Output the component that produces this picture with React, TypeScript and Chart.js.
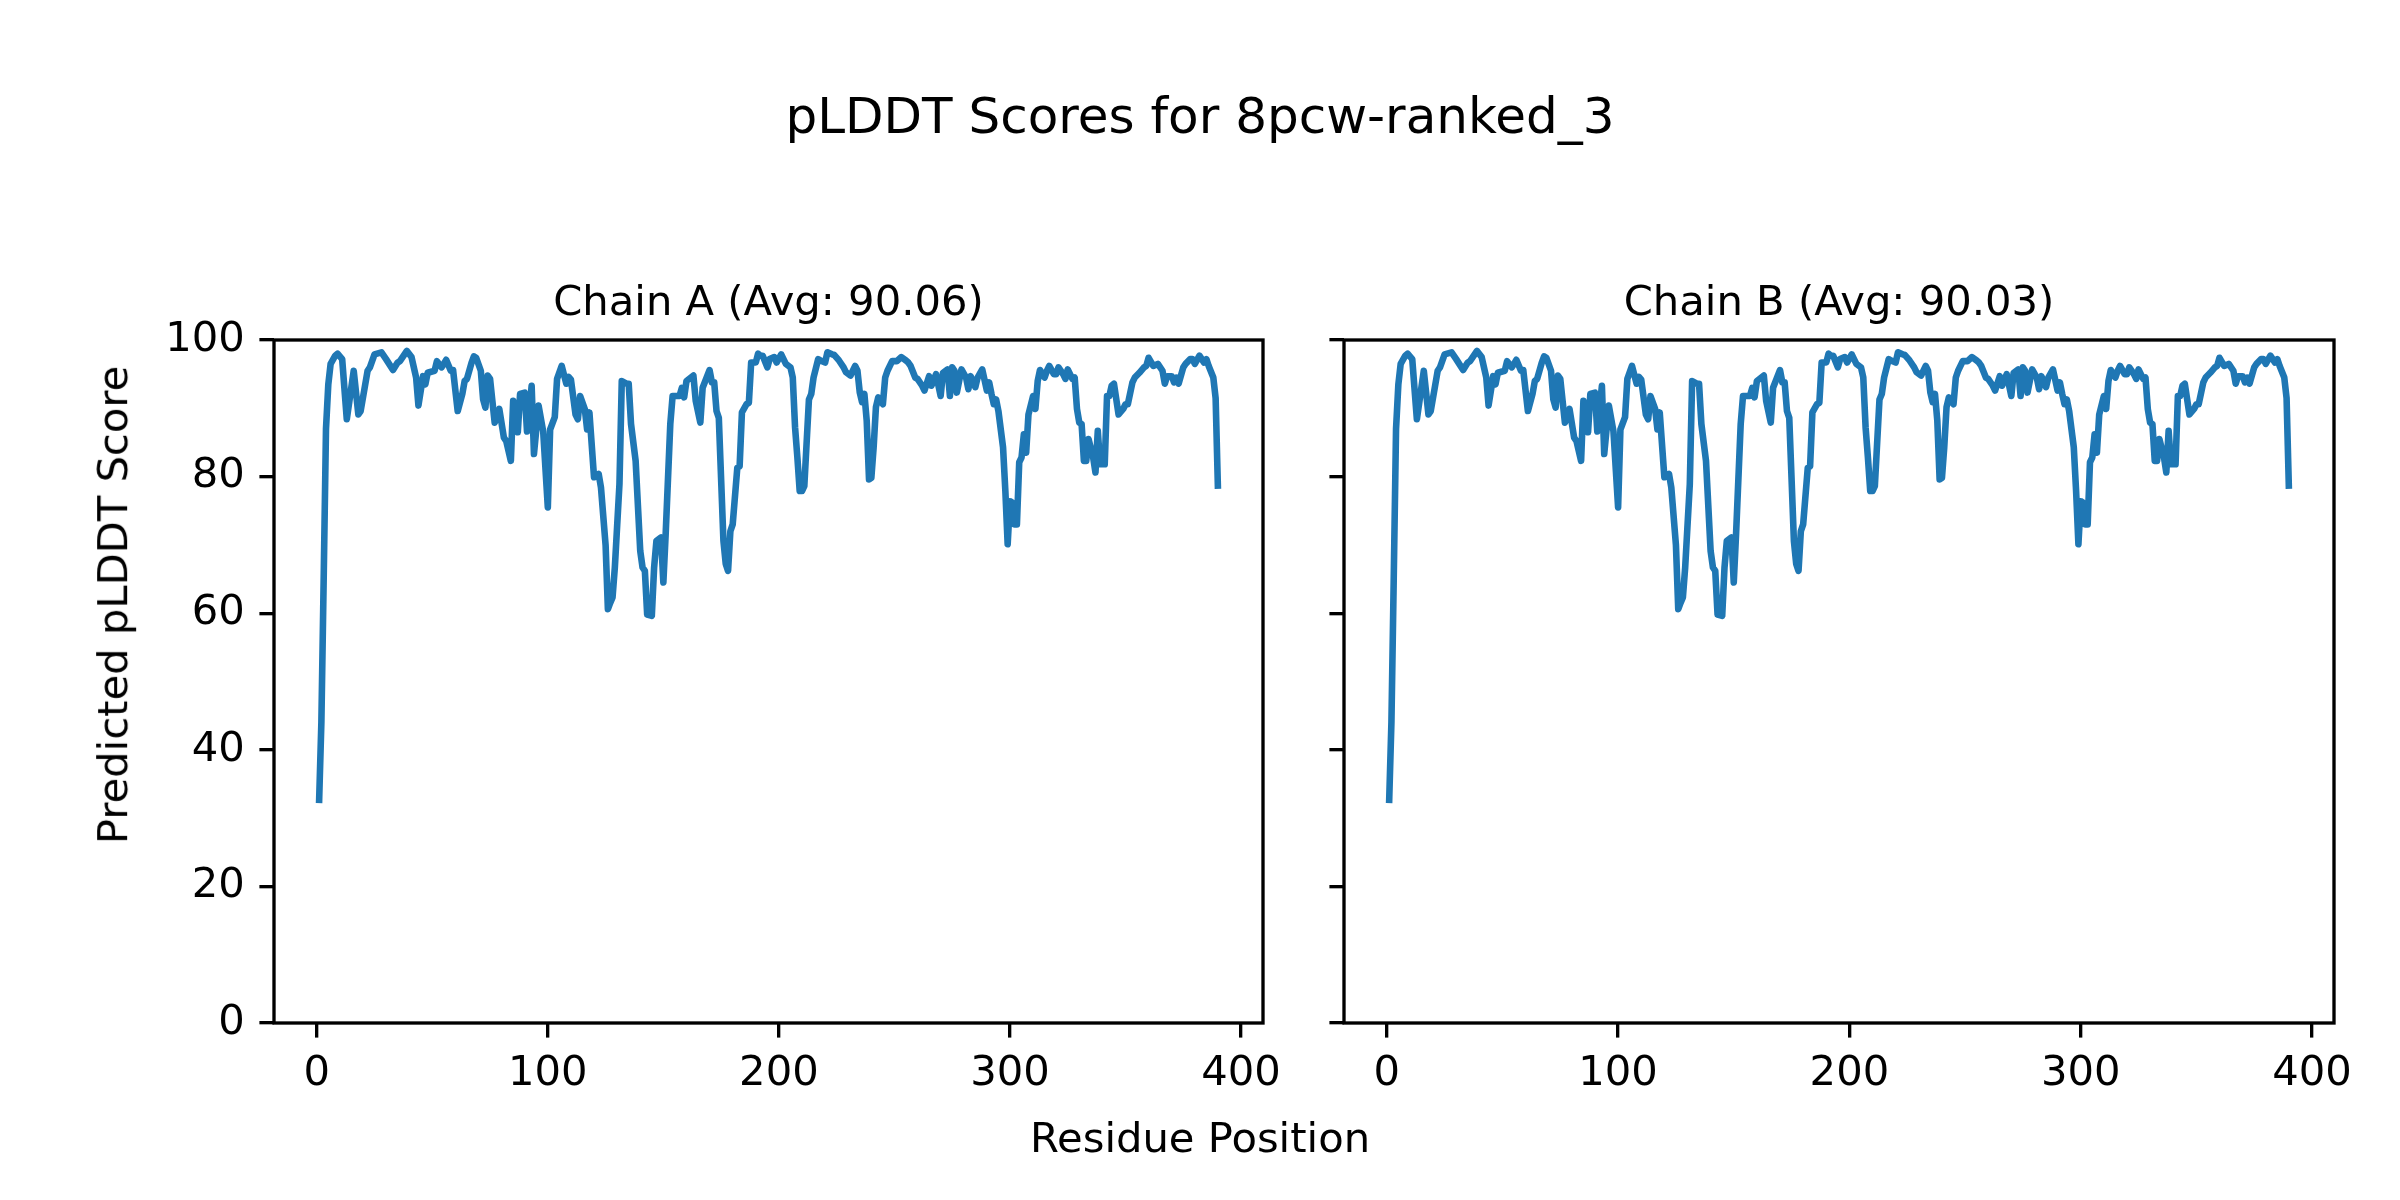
import React, { useEffect, useRef } from "react";
import { Chart, registerables } from "chart.js";

Chart.register(...registerables);

// ---------- data ----------
const residues: number[] = [
  1, 2, 3, 4, 5, 6, 8, 9, 11, 13, 16, 18, 19, 22, 23, 25, 28, 30, 33, 35, 36, 39, 41, 43, 44, 46, 47, 48,
  51, 52, 54, 55, 56, 58, 59, 61, 63, 64, 65, 67, 68, 69, 71, 72, 73, 74, 75, 76, 77, 79, 81, 82, 84, 85,
  87, 88, 90, 91, 93, 94, 96, 98, 100, 101, 103, 104, 106, 108, 109, 110, 112, 113, 114, 116, 117, 118,
  120, 122, 123, 125, 126, 127, 128, 129, 131, 132, 134, 135, 136, 138, 140, 141, 142, 143, 145, 146,
  147, 149, 150, 151, 153, 154, 156, 157, 158, 159, 160, 163, 164, 166, 167, 170, 171, 172, 173, 174,
  176, 177, 178, 179, 180, 182, 183, 184, 186, 187, 188, 190, 191, 192, 193, 195, 196, 198, 199, 201,
  203, 205, 206, 207, 208, 209, 210, 211, 213, 214, 215, 217, 218, 220, 221, 223, 224, 226, 228, 229,
  231, 233, 234, 235, 236, 237, 238, 239, 240, 241, 242, 243, 245, 246, 247, 249, 251, 253, 255, 256,
  257, 259, 260, 262, 263, 265, 266, 268, 270, 271, 273, 274, 275, 276, 277, 279, 281, 282, 283, 285,
  286, 288, 290, 291, 292, 293, 294, 295, 297, 298, 299, 300, 301, 302, 303, 304, 305, 306, 307, 308,
  310, 311, 312, 313, 315, 316, 317, 319, 320, 321, 323, 324, 325, 327, 328, 329, 330, 331, 332, 333,
  334, 336, 337, 338, 339, 341, 342, 343, 344, 345, 347, 349, 350, 351, 353, 354, 356, 358, 359, 360,
  362, 364, 366, 367, 368, 370, 371, 372, 373, 375, 376, 378, 379, 380, 382, 384, 385, 386, 388, 389, 390,
];

const chainAScores: number[] = [
  32.2, 44, 65, 87, 93.5, 96.5, 97.7, 98.0, 97.2, 88.4, 95.5, 89.1, 89.6, 95.5, 96.0, 97.9, 98.2, 97.2, 95.6, 96.7, 96.9, 98.4, 97.5, 94.5, 90.4, 94.7, 93.5, 95.2,
  95.5, 96.9, 96.0, 96.5, 97.1, 95.5, 95.6, 89.6, 92.1, 94.0, 94.3, 96.7, 97.6, 97.4, 95.5, 91.3, 90.1, 94.8, 94.3, 91.1, 87.9, 89.9, 85.7, 85.2, 82.3, 91.1,
  86.5, 92.1, 92.3, 86.6, 93.3, 83.3, 90.4, 86.6, 75.5, 86.9, 88.7, 94.3, 96.2, 93.6, 94.6, 94.2, 89.1, 88.4, 91.8, 89.9, 86.9, 89.4,
  79.9, 80.4, 78.4, 70.0, 60.6, 61.5, 62.3, 66.7, 78.9, 94.0, 93.6, 93.6, 87.7, 82.3, 69.1, 66.7, 66.2, 59.8, 59.6, 66.7,
  70.6, 71.1, 64.5, 71.6, 87.7, 91.8, 91.8, 91.8, 93.0, 91.6, 94.0, 94.8, 91.1, 87.9, 93.0, 95.6, 93.8, 93.8, 89.6, 88.6,
  70.6, 67.2, 66.2, 72.0, 73.0, 81.3, 81.5, 89.4, 90.6, 90.8, 96.7, 96.7, 98.0, 97.7, 97.7, 96.0, 97.2, 97.5, 96.7, 97.9,
  96.5, 96.0, 94.5, 87.2, 82.8, 77.9, 77.9, 78.6, 91.3, 92.1, 94.5, 97.2, 97.0, 96.7, 98.2, 97.9, 97.8, 97.0, 96.0, 95.3,
  94.8, 96.2, 95.5, 92.3, 90.9, 92.1, 88.2, 79.6, 79.8, 84.3, 90.2, 91.6, 90.6, 94.5, 95.5, 96.9, 96.9, 97.5, 97.0, 96.7,
  96.2, 94.5, 94.3, 93.3, 92.6, 94.7, 93.3, 95.0, 91.8, 95.2, 95.7, 91.8, 96.0, 95.5, 92.3, 95.7, 94.5, 92.8, 94.7, 93.1,
  94.5, 95.7, 92.6, 93.8, 92.1, 90.6, 91.3, 89.6, 84.3, 77.9, 70.1, 76.4, 76.2, 73.0, 73.0, 82.1, 82.8, 86.2, 83.5, 89.1,
  91.8, 89.9, 94.0, 95.6, 94.5, 95.5, 96.2, 95.0, 95.0, 96.0, 95.0, 94.3, 95.7, 94.3, 94.5, 89.9, 87.9, 87.7, 82.3, 82.3,
  85.5, 82.8, 80.6, 86.7, 81.8, 81.8, 91.8, 91.8, 93.3, 93.6, 89.1, 89.9, 90.6, 90.6, 93.8, 94.5, 95.2, 96.0, 96.2, 97.4,
  96.2, 96.5, 95.5, 93.6, 94.7, 94.7, 93.8, 94.5, 93.6, 96.0, 96.5, 97.2, 97.2, 96.5, 97.7, 96.7, 97.2, 96.2, 94.5, 91.5, 78.2,
];

const chainBScores: number[] = [
  32.2, 44, 65, 87, 93.5, 96.5, 97.7, 98.0, 97.2, 88.4, 95.5, 89.1, 89.6, 95.5, 96.0, 97.9, 98.2, 97.2, 95.6, 96.7, 96.9, 98.4, 97.5, 94.5, 90.4, 94.7, 93.5, 95.2,
  95.5, 96.9, 96.0, 96.5, 97.1, 95.5, 95.6, 89.6, 92.1, 94.0, 94.3, 96.7, 97.6, 97.4, 95.5, 91.3, 90.1, 94.8, 94.3, 91.1, 87.9, 89.9, 85.7, 85.2, 82.3, 91.1,
  86.5, 92.1, 92.3, 86.6, 93.3, 83.3, 90.4, 86.6, 75.5, 86.9, 88.7, 94.3, 96.2, 93.6, 94.6, 94.2, 89.1, 88.4, 91.8, 89.9, 86.9, 89.4,
  79.9, 80.4, 78.4, 70.0, 60.6, 61.5, 62.3, 66.7, 78.9, 94.0, 93.6, 93.6, 87.7, 82.3, 69.1, 66.7, 66.2, 59.8, 59.6, 66.7,
  70.6, 71.1, 64.5, 71.6, 87.7, 91.8, 91.8, 91.8, 93.0, 91.6, 94.0, 94.8, 91.1, 87.9, 93.0, 95.6, 93.8, 93.8, 89.6, 88.6,
  70.6, 67.2, 66.2, 72.0, 73.0, 81.3, 81.5, 89.4, 90.6, 90.8, 96.7, 96.7, 98.0, 97.7, 97.7, 96.0, 97.2, 97.5, 96.7, 97.9,
  96.5, 96.0, 94.5, 87.2, 82.8, 77.9, 77.9, 78.6, 91.3, 92.1, 94.5, 97.2, 97.0, 96.7, 98.2, 97.9, 97.8, 97.0, 96.0, 95.3,
  94.8, 96.2, 95.5, 92.3, 90.9, 92.1, 88.2, 79.6, 79.8, 84.3, 90.2, 91.6, 90.6, 94.5, 95.5, 96.9, 96.9, 97.5, 97.0, 96.7,
  96.2, 94.5, 94.3, 93.3, 92.6, 94.7, 93.3, 95.0, 91.8, 95.2, 95.7, 91.8, 96.0, 95.5, 92.3, 95.7, 94.5, 92.8, 94.7, 93.1,
  94.5, 95.7, 92.6, 93.8, 92.1, 90.6, 91.3, 89.6, 84.3, 77.9, 70.1, 76.4, 76.2, 73.0, 73.0, 82.1, 82.8, 86.2, 83.5, 89.1,
  91.8, 89.9, 94.0, 95.6, 94.5, 95.5, 96.2, 95.0, 95.0, 96.0, 95.0, 94.3, 95.7, 94.3, 94.5, 89.9, 87.9, 87.7, 82.3, 82.3,
  85.5, 82.8, 80.6, 86.7, 81.8, 81.8, 91.8, 91.8, 93.3, 93.6, 89.1, 89.9, 90.6, 90.6, 93.8, 94.5, 95.2, 96.0, 96.2, 97.4,
  96.2, 96.5, 95.5, 93.6, 94.7, 94.7, 93.8, 94.5, 93.6, 96.0, 96.5, 97.2, 97.2, 96.5, 97.7, 96.7, 97.2, 96.2, 94.5, 91.5, 78.2,
];

const xTicks: number[] = [0, 100, 200, 300, 400];
const yTicks: number[] = [0, 20, 40, 60, 80, 100];

const suptitle = "pLDDT Scores for 8pcw-ranked_3";
const chainTitles: string[] = ["Chain A (Avg: 90.06)", "Chain B (Avg: 90.03)"];
const xLabel = "Residue Position";
const yLabel = "Predicted pLDDT Score";

// ---------- layout (pixels) ----------
const W = 2400;
const H = 1200;
const AX_TOP = 340;
const AX_BOTTOM = 1023;
const AX_LEFTS = [274, 1344];
const AX_RIGHTS = [1263, 2334];
const Y_AXIS_W = 140;
const X_AXIS_H = 110;
const FONT = "'DejaVu Sans', 'Noto Sans', sans-serif";
const TICK_FONT = 41.7;
const LINE_COLOR = "#1f77b4";
const SPINE_W = 3.33;
const TICK_LEN = 14.6;

const framePlugin = {
  id: "frame",
  afterDatasetsDraw(chart: any) {
    const { ctx, chartArea } = chart;
    ctx.save();
    ctx.strokeStyle = "#000";
    ctx.lineWidth = SPINE_W;
    ctx.lineJoin = "miter";
    ctx.strokeRect(chartArea.left, chartArea.top, chartArea.right - chartArea.left, chartArea.bottom - chartArea.top);
    ctx.restore();
  },
};

function makeConfig(idx: number, scores: number[]): any {
  const showY = idx === 0;
  return {
    type: "line",
    data: {
      datasets: [
        {
          data: residues.map((x, i) => ({ x, y: scores[i] })),
          borderColor: LINE_COLOR,
          borderWidth: 6.6,
          pointRadius: 0,
          tension: 0,
          fill: false,
          borderJoinStyle: "round",
          borderCapStyle: "butt",
        },
      ],
    },
    options: {
      animation: false,
      responsive: false,
      devicePixelRatio: 1,
      layout: {
        padding: {
          left: AX_LEFTS[idx] - Y_AXIS_W,
          right: W - AX_RIGHTS[idx],
          top: AX_TOP,
          bottom: H - AX_BOTTOM - X_AXIS_H,
        },
      },
      plugins: {
        legend: { display: false },
        tooltip: { enabled: false },
        title: { display: false },
      },
      scales: {
        x: {
          type: "linear",
          min: -18.5,
          max: 409.5,
          afterBuildTicks: (s: any) => {
            s.ticks = xTicks.map((v) => ({ value: v }));
          },
          afterFit: (s: any) => {
            s.height = X_AXIS_H;
          },
          grid: {
            drawOnChartArea: false,
            drawTicks: true,
            tickLength: TICK_LEN,
            color: "#000",
            lineWidth: SPINE_W,
          },
          border: { display: false },
          ticks: {
            color: "#000",
            font: { family: FONT, size: TICK_FONT },
            padding: 12,
            maxRotation: 0,
            autoSkip: false,
            callback: (v: any) => String(v),
          },
        },
        y: {
          type: "linear",
          min: 0,
          max: 100,
          afterBuildTicks: (s: any) => {
            s.ticks = yTicks.map((v) => ({ value: v }));
          },
          afterFit: (s: any) => {
            s.width = Y_AXIS_W;
          },
          grid: {
            drawOnChartArea: false,
            drawTicks: true,
            tickLength: TICK_LEN,
            color: "#000",
            lineWidth: SPINE_W,
          },
          border: { display: false },
          ticks: {
            color: "#000",
            font: { family: FONT, size: TICK_FONT },
            padding: 14.6,
            autoSkip: false,
            callback: (v: any) => (showY ? String(v) : ""),
          },
        },
      },
    },
    plugins: [framePlugin],
  };
}

function PanelCanvas({ idx, scores }: { idx: number; scores: number[] }) {
  const ref = useRef<HTMLCanvasElement | null>(null);
  useEffect(() => {
    if (!ref.current) return;
    const chart = new Chart(ref.current, makeConfig(idx, scores));
    return () => chart.destroy();
  }, [idx, scores]);
  return (
    <canvas
      ref={ref}
      width={W}
      height={H}
      style={{ position: "absolute", left: 0, top: 0, width: W, height: H }}
    />
  );
}

const textBase: React.CSSProperties = {
  position: "absolute",
  fontFamily: FONT,
  color: "#000",
  whiteSpace: "nowrap",
  margin: 0,
};

export default function App() {
  const titleF = 50;
  const labF = 41.7;
  return (
    <div
      style={{
        position: "absolute",
        left: 0,
        top: 0,
        width: W,
        height: H,
        background: "#fff",
        overflow: "hidden",
      }}
    >
      <PanelCanvas idx={0} scores={chainAScores} />
      <PanelCanvas idx={1} scores={chainBScores} />
      <div
        style={{
          ...textBase,
          left: 0,
          width: W,
          textAlign: "center",
          fontSize: titleF,
          lineHeight: `${titleF}px`,
          top: 133 - 0.846 * titleF,
        }}
      >
        {suptitle}
      </div>
      {chainTitles.map((t, i) => (
        <div
          key={t}
          style={{
            ...textBase,
            left: (AX_LEFTS[i] + AX_RIGHTS[i]) / 2 - 500,
            width: 1000,
            textAlign: "center",
            fontSize: labF,
            lineHeight: `${labF}px`,
            top: 315 - 0.846 * labF,
          }}
        >
          {t}
        </div>
      ))}
      <div
        style={{
          ...textBase,
          left: 0,
          width: W,
          textAlign: "center",
          fontSize: labF,
          lineHeight: `${labF}px`,
          top: 1152 - 0.846 * labF,
        }}
      >
        {xLabel}
      </div>
      <div
        style={{
          ...textBase,
          left: 112.6 - 500,
          top: 605 - labF / 2,
          width: 1000,
          textAlign: "center",
          fontSize: labF,
          lineHeight: `${labF}px`,
          transform: "rotate(-90deg)",
          transformOrigin: "50% 50%",
        }}
      >
        {yLabel}
      </div>
    </div>
  );
}
